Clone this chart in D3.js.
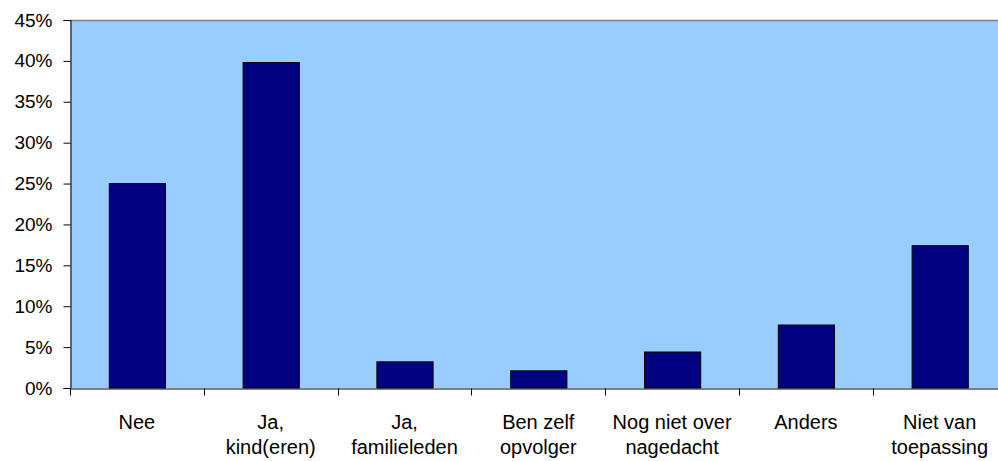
<!DOCTYPE html>
<html><head><meta charset="utf-8">
<script src="https://cdn.jsdelivr.net/npm/d3@7"></script>
<style>body{margin:0;background:#fff;}svg{display:block;}</style>
</head><body>
<script>
const categories = ["Nee", "Ja, kind(eren)", "Ja, familieleden", "Ben zelf opvolger", "Nog niet over nagedacht", "Anders", "Niet van toepassing"];
const labelLines = [["Nee"], ["Ja,", "kind(eren)"], ["Ja,", "familieleden"], ["Ben zelf", "opvolger"], ["Nog niet over", "nagedacht"], ["Anders"], ["Niet van", "toepassing"]];
const values = [0.250, 0.398, 0.032, 0.021, 0.044, 0.077, 0.174];
const yTicks = [0, 0.05, 0.10, 0.15, 0.20, 0.25, 0.30, 0.35, 0.40, 0.45];

const W = 998, H = 461;
const m = {left: 70, top: 20, right: 1006.6, bottom: 388};
const svg = d3.select("body").append("svg").attr("width", W).attr("height", H);

const x = d3.scaleBand().domain(categories).range([m.left, m.right]).paddingInner(0.58).paddingOuter(0.29);
const xCat = d3.scaleBand().domain(categories).range([m.left, m.right]).padding(0);
const y = d3.scaleLinear().domain([0, 0.45]).range([m.bottom, m.top]);

svg.append("rect").attr("x", m.left).attr("y", m.top).attr("width", m.right - m.left).attr("height", m.bottom - m.top)
  .attr("fill", "#99CCFF");
svg.append("line").attr("x1", m.left).attr("x2", m.right).attr("y1", m.top + 0.5).attr("y2", m.top + 0.5)
  .attr("stroke", "#808080").attr("stroke-width", 1.5);

svg.selectAll("rect.bar").data(values).enter().append("rect").attr("class", "bar")
  .attr("x", (d, i) => x(categories[i]) + 0.5)
  .attr("y", d => y(d))
  .attr("width", x.bandwidth())
  .attr("height", d => y(0) - y(d))
  .attr("fill", "#000080").attr("stroke", "#000").attr("stroke-width", 1);

// y axis
const yAxis = d3.axisLeft(y).tickValues(yTicks).tickFormat(d3.format(".0%")).tickSize(7).tickPadding(11);
const gy = svg.append("g").attr("transform", `translate(${m.left + 0.5},0)`).call(yAxis);
gy.select(".domain").attr("stroke", "#000");
gy.selectAll(".tick line").attr("stroke", "#000");
gy.selectAll(".tick text").attr("font-family", "Liberation Sans, Arial, sans-serif").attr("font-size", 19).attr("fill", "#000");

// x axis
const xAxis = d3.axisBottom(xCat).tickSize(0).tickFormat("");
const gx = svg.append("g").attr("transform", `translate(0,${m.bottom + 0.5})`).call(xAxis);
gx.select(".domain").attr("stroke", "#000");
gx.selectAll(".tick").remove();
const bounds = categories.map(c => xCat(c)).concat([m.right]);
gx.selectAll("line.tk").data(bounds).enter().append("line").attr("class", "tk")
  .attr("x1", d => Math.round(d) + 0.5).attr("x2", d => Math.round(d) + 0.5)
  .attr("y1", 0).attr("y2", 7).attr("stroke", "#000");

const lbl = svg.append("g").attr("font-family", "Liberation Sans, Arial, sans-serif").attr("font-size", 20).attr("fill", "#000").attr("text-anchor", "middle");
categories.forEach((c, i) => {
  const t = lbl.append("text").attr("x", xCat(c) + xCat.bandwidth() / 2).attr("y", 429);
  labelLines[i].forEach((line, j) => {
    t.append("tspan").attr("x", xCat(c) + xCat.bandwidth() / 2).attr("dy", j === 0 ? 0 : 25).text(line);
  });
});
</script>
</body></html>
